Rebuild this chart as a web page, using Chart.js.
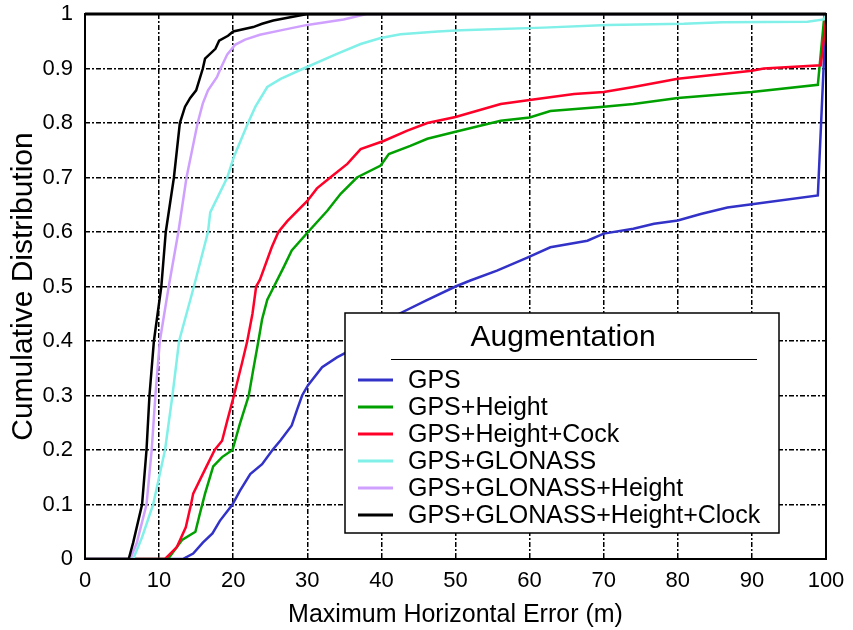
<!DOCTYPE html>
<html>
<head>
<meta charset="utf-8">
<script src="https://cdn.jsdelivr.net/npm/chart.js@4"></script>
<style>
  html, body { margin: 0; padding: 0; background: #fff; }
  #wrap { width: 853px; height: 630px; }
</style>
</head>
<body>
<div id="wrap"><canvas id="cdf"></canvas></div>
<script>
// Series (x = error in m, y = cumulative share)
const gpsX = [0, 13.2, 14.6, 15.9, 17.2, 18.2, 19.9, 20.9, 22.3, 23.9, 25.3, 26.4, 27.9, 28.6, 29.3, 30.1, 32, 34, 35.4, 38.5, 42.4, 46, 50, 52, 55.6, 59.7, 62.8, 67.8, 70, 74, 76.8, 80, 83.1, 86.7, 90, 98.9, 100];
const gpsY = [0, 0, 0.01, 0.03, 0.047, 0.07, 0.1, 0.125, 0.156, 0.174, 0.2, 0.218, 0.245, 0.273, 0.3, 0.319, 0.352, 0.37, 0.38, 0.415, 0.45, 0.474, 0.5, 0.511, 0.529, 0.553, 0.572, 0.584, 0.597, 0.606, 0.615, 0.621, 0.633, 0.645, 0.651, 0.667, 1];

const heightX = [0, 11.2, 12.4, 13.1, 14.9, 15.5, 16.2, 17.3, 18.5, 19.9, 20.9, 22.1, 22.7, 23.4, 23.9, 24.6, 25.5, 26.8, 27.9, 30.1, 32.7, 34.5, 36.7, 39.9, 41, 43.9, 46.2, 50, 56.1, 60, 62.8, 70, 74, 80, 90, 98.9, 99.8, 100];
const heightY = [0, 0, 0.022, 0.035, 0.05, 0.083, 0.12, 0.17, 0.187, 0.2, 0.248, 0.3, 0.347, 0.4, 0.44, 0.476, 0.5, 0.535, 0.566, 0.6, 0.639, 0.67, 0.7, 0.722, 0.743, 0.758, 0.771, 0.784, 0.804, 0.81, 0.822, 0.83, 0.835, 0.846, 0.857, 0.87, 1, 1];

const clockX = [0, 10.8, 12.4, 13.6, 14.3, 14.6, 16.4, 17.5, 18.5, 19.2, 20.1, 21.2, 21.9, 22.6, 23.1, 23.6, 25.2, 26.1, 27.3, 30, 31.3, 33.1, 35.4, 37.2, 40.3, 43.5, 46.2, 50, 56.1, 60, 66, 70, 74, 80, 90, 91.6, 99.3, 100];
const clockY = [0, 0, 0.022, 0.058, 0.1, 0.12, 0.17, 0.2, 0.217, 0.254, 0.3, 0.36, 0.4, 0.45, 0.5, 0.512, 0.572, 0.6, 0.62, 0.657, 0.68, 0.7, 0.725, 0.752, 0.767, 0.786, 0.8, 0.811, 0.835, 0.842, 0.853, 0.857, 0.866, 0.881, 0.896, 0.9, 0.906, 0.99];

const glonassX = [0, 6.5, 7.7, 9.2, 10.8, 11.8, 12.7, 14.7, 16.6, 16.9, 19.2, 20.1, 22, 23, 24.6, 26.4, 29.5, 34, 37.2, 39.9, 42.6, 47.6, 50.7, 61.9, 70.5, 80.8, 86, 97.5, 99.7, 100];
const glonassY = [0, 0, 0.04, 0.1, 0.2, 0.3, 0.4, 0.5, 0.6, 0.636, 0.7, 0.738, 0.8, 0.83, 0.866, 0.881, 0.9, 0.927, 0.945, 0.956, 0.963, 0.968, 0.97, 0.975, 0.98, 0.982, 0.985, 0.986, 0.99, 1];

const glHeightX = [0, 6.1, 7, 8.3, 9, 9.5, 10.1, 11.3, 12.6, 13.7, 15.2, 15.9, 16.6, 17.8, 18.3, 19.2, 20.3, 21.6, 23.6, 26.4, 30, 34.9, 38, 100];
const glHeightY = [0, 0, 0.03, 0.1, 0.2, 0.3, 0.4, 0.5, 0.6, 0.7, 0.8, 0.836, 0.86, 0.884, 0.9, 0.926, 0.944, 0.953, 0.962, 0.97, 0.98, 0.99, 1, 1];

const glClockX = [0, 5.9, 6.5, 7.7, 8.3, 8.7, 9.3, 10.3, 10.9, 12, 12.8, 13.5, 14.2, 15, 15.9, 16.2, 17.6, 18.1, 19.3, 20, 22.7, 23.9, 25.4, 30, 100];
const glClockY = [0, 0, 0.03, 0.1, 0.2, 0.3, 0.4, 0.5, 0.6, 0.7, 0.8, 0.83, 0.846, 0.86, 0.9, 0.918, 0.936, 0.951, 0.96, 0.968, 0.976, 0.982, 0.988, 1, 1];

const seriesNames = ["GPS", "GPS+Height", "GPS+Height+Cock", "GPS+GLONASS", "GPS+GLONASS+Height", "GPS+GLONASS+Height+Clock"];
const seriesColors = ["rgb(50,50,200)", "rgb(0,160,0)", "rgb(255,0,40)", "rgb(128,240,232)", "rgb(208,160,255)", "rgb(0,0,0)"];
const xs = [gpsX, heightX, clockX, glonassX, glHeightX, glClockX];
const ys = [gpsY, heightY, clockY, glonassY, glHeightY, glClockY];

const legendTitle = "Augmentation";
const xTitle = "Maximum Horizontal Error (m)";
const yTitle = "Cumulative Distribution";

const FONT = "'Liberation Sans', Arial, sans-serif";

// Pair up the x / y lists for the scatter datasets
const datasets = seriesNames.map((name, i) => ({
  label: name,
  data: xs[i].map((x, j) => ({ x: x, y: ys[i][j] })),
  borderColor: seriesColors[i],
  backgroundColor: seriesColors[i],
  borderWidth: 2.5,
  pointRadius: 0,
  showLine: true,
  tension: 0,
  order: seriesNames.length - i
}));

// Frame around the plot and the boxed legend in the lower right
const framePlugin = {
  id: "frame",
  afterDatasetsDraw(chart) {
    const { ctx, chartArea: a } = chart;
    ctx.save();
    ctx.strokeStyle = "#000";
    ctx.lineWidth = 2;
    ctx.strokeRect(a.left, a.top, a.right - a.left, a.bottom - a.top);
    ctx.lineWidth = 3;
    ctx.beginPath();
    ctx.moveTo(a.left, a.top);
    ctx.lineTo(a.right, a.top);
    ctx.stroke();

    // legend box
    const bx = 345, by = 313, bw = 434, bh = 220;
    ctx.fillStyle = "#fff";
    ctx.fillRect(bx, by, bw, bh);
    ctx.lineWidth = 1.5;
    ctx.strokeStyle = "#000";
    ctx.strokeRect(bx, by, bw, bh);

    ctx.fillStyle = "#000";
    ctx.font = "30px " + FONT;
    ctx.textAlign = "center";
    ctx.textBaseline = "middle";
    ctx.fillText(legendTitle, 563, 338);

    ctx.lineWidth = 1;
    ctx.beginPath();
    ctx.moveTo(391, 359.5);
    ctx.lineTo(757, 359.5);
    ctx.stroke();

    ctx.font = "25px " + FONT;
    ctx.textAlign = "left";
    chart.data.datasets.forEach((ds, i) => {
      const y = 380 + i * 27;
      ctx.strokeStyle = ds.borderColor;
      ctx.lineWidth = 3;
      ctx.beginPath();
      ctx.moveTo(358, y);
      ctx.lineTo(393, y);
      ctx.stroke();
      ctx.fillStyle = "#000";
      ctx.fillText(ds.label, 408, y + 1);
    });
    ctx.restore();
  }
};

new Chart(document.getElementById("cdf"), {
  type: "scatter",
  data: { datasets: datasets },
  plugins: [framePlugin],
  options: {
    responsive: true,
    maintainAspectRatio: false,
    animation: false,
    layout: { padding: { top: 14, right: 27, left: 6, bottom: 0 } },
    plugins: {
      legend: { display: false },
      tooltip: { enabled: false }
    },
    scales: {
      x: {
        type: "linear",
        min: 0,
        max: 100,
        afterFit(scale) { scale.height = 71; scale.paddingLeft = 0; scale.paddingRight = 0; },
        ticks: {
          stepSize: 10,
          color: "#000",
          font: { family: FONT, size: 22 },
          padding: 9,
          maxRotation: 0
        },
        grid: { color: "#000", lineWidth: 1.5, drawTicks: false },
        border: { display: false, dash: [5, 2, 2, 2] },
        title: {
          display: true,
          text: xTitle,
          color: "#000",
          font: { family: FONT, size: 25 },
          padding: { top: 0, bottom: 0 }
        }
      },
      y: {
        type: "linear",
        min: 0,
        max: 1,
        afterFit(scale) { scale.width = 79; scale.paddingTop = 0; scale.paddingBottom = 0; },
        ticks: {
          stepSize: 0.1,
          color: "#000",
          font: { family: FONT, size: 22 },
          padding: 12,
          callback: v => String(Number(v.toFixed(1)))
        },
        grid: { color: "#000", lineWidth: 1.5, drawTicks: false },
        border: { display: false, dash: [5, 2, 2, 2] },
        title: {
          display: true,
          text: yTitle,
          color: "#000",
          font: { family: FONT, size: 30 },
          padding: { top: 0, bottom: 2 }
        }
      }
    }
  }
});
</script>
</body>
</html>
